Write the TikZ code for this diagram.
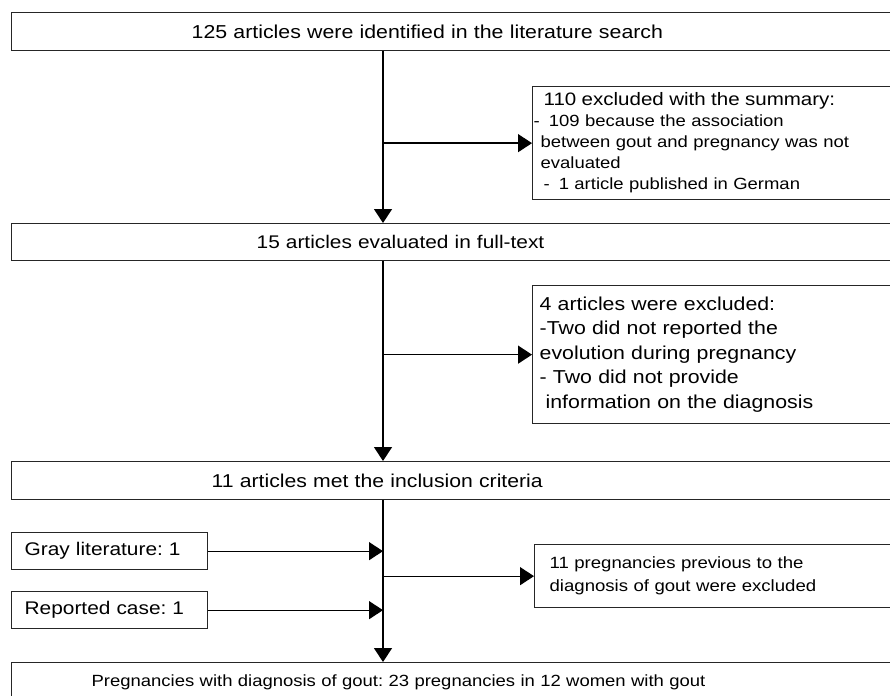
\documentclass[tikz,border=0pt]{standalone}
\usepackage{fontspec}
\setmainfont{Liberation Sans}[FakeStretch=1.14]
\usetikzlibrary{arrows.meta}
\frenchspacing
\begin{document}
\begin{tikzpicture}[x=1pt,y=-1pt,
  box/.style={draw=black!85, line width=1.3pt, anchor=north west, inner ysep=0pt, align=left},
  arr/.style={draw=black, line width=1.3pt, -{Triangle[length=14pt,width=18pt]}},
  ln/.style={draw=black, line width=1.3pt}]
\clip (0,0) rectangle (890,695);
\fill[white] (0,0) rectangle (890,695);
\coordinate (vx) at (383,0);
% main boxes
\node[box, minimum width=889pt, minimum height=38pt, text width=889pt, inner xsep=0pt,
  font=\fontsize{18.7}{22}\selectfont] (top) at (11,12)
  {\hspace*{180pt}125 articles were identified in the literature search};
\node[box, minimum width=889pt, minimum height=37pt, text width=889pt, inner xsep=0pt,
  font=\fontsize{18.3}{22}\selectfont] (full) at (11,223)
  {\hspace*{245pt}15 articles evaluated in full-text};
\node[box, minimum width=889pt, minimum height=38pt, text width=889pt, inner xsep=0pt,
  font=\fontsize{18.6}{22}\selectfont] (incl) at (11,461)
  {\hspace*{200pt}11 articles met the inclusion criteria};
\node[box, minimum width=889pt, minimum height=40pt, text width=889pt, inner xsep=0pt,
  font=\fontsize{16.2}{20}\selectfont] (final) at (11,662)
  {\hspace*{80pt}Pregnancies with diagnosis of gout: 23 pregnancies in 12 women with gout};
% side boxes
\node[box, minimum width=196pt, minimum height=37pt, text width=170pt, inner xsep=13pt,
  font=\fontsize{18.3}{22}\selectfont] (gray) at (11,532) {Gray literature: 1};
\node[box, minimum width=196pt, minimum height=37pt, text width=170pt, inner xsep=13pt,
  font=\fontsize{18.3}{22}\selectfont] (rep) at (11,591) {Reported case: 1};
% exclusion boxes
\node[box, minimum width=368pt, minimum height=113pt, text width=352pt, inner xsep=8pt,
  font=\fontsize{16.2}{21}\selectfont] (ex1) at (532,86)
  {\hspace*{3pt}{\fontsize{18}{21}\selectfont 110 excluded with the summary:}\\
   \hspace*{-7pt}-\hspace*{9pt}109 because the association\\
   between gout and pregnancy was not\\
   evaluated\\
   \hspace*{3pt}-\hspace*{9pt}1 article published in German};
\node[box, minimum width=368pt, minimum height=138pt, text width=354pt, inner xsep=7pt,
  font=\fontsize{18.7}{24.5}\selectfont] (ex2) at (532,285)
  {4 articles were excluded:\\
   -Two did not reported the\\
   evolution during pregnancy\\
   - Two did not provide\\
   \hspace*{6pt}information on the diagnosis};
\node[box, minimum width=366pt, minimum height=63pt, text width=336pt, inner xsep=15pt,
  font=\fontsize{16.3}{23}\selectfont] (ex3) at (534,544)
  {11 pregnancies previous to the\\
   diagnosis of gout were excluded};
% connectors
\draw[arr] (top.south -| vx) -- (full.north -| vx);
\draw[arr] (full.south -| vx) -- (incl.north -| vx);
\draw[arr] (incl.south -| vx) -- (final.north -| vx);
\draw[arr] (ex1.west -| vx) -- (ex1.west);
\draw[arr] (ex2.west -| vx) -- (ex2.west);
\draw[arr] (ex3.west -| vx) -- (ex3.west);
\draw[arr] (gray.east) -- (gray.east -| vx);
\draw[arr] (rep.east) -- (rep.east -| vx);
\end{tikzpicture}
\end{document}
